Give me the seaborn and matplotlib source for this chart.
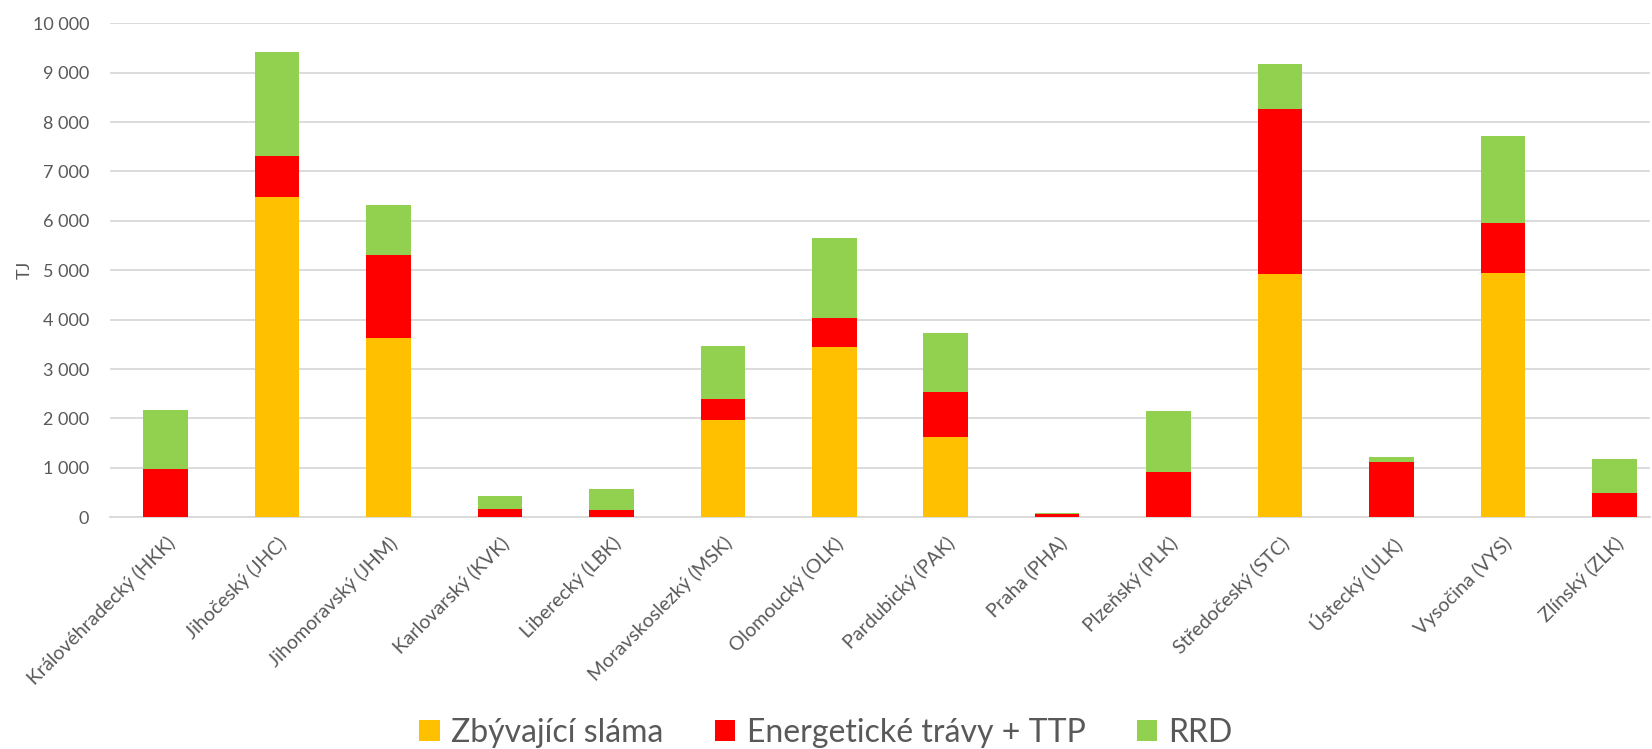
import numpy as np
import pandas as pd
import matplotlib
matplotlib.use("Agg")
import matplotlib.pyplot as plt
from matplotlib.patches import Patch
import seaborn as sns

regions = ["Královéhradecký (HKK)", "Jihočeský (JHC)", "Jihomoravský (JHM)",
           "Karlovarský (KVK)", "Liberecký (LBK)", "Moravskoslezký (MSK)",
           "Olomoucký (OLK)", "Pardubický (PAK)", "Praha (PHA)", "Plzeňský (PLK)",
           "Středočeský (STC)", "Ústecký (ULK)", "Vysočina (VYS)", "Zlínský (ZLK)"]

slama = [0, 6475, 3633, 0, 0, 1960, 3450, 1633, 0, 0, 4925, 0, 4939, 0]
travy = [975, 832, 1680, 170, 157, 430, 594, 901, 65, 915, 3347, 1127, 1017, 485]
rrd = [1203, 2119, 1011, 267, 423, 1073, 1605, 1196, 24, 1237, 895, 96, 1769, 690]

series_names = ["Zbývající sláma", "Energetické trávy + TTP", "RRD"]
colors = ["#FFC000", "#FF0000", "#92D050"]

df = pd.DataFrame({"region": regions, "slama": slama, "travy": travy, "rrd": rrd})
df["c1"] = df["slama"]
df["c2"] = df["c1"] + df["travy"]
df["c3"] = df["c2"] + df["rrd"]

sns.set_theme(style="white")
plt.rcParams["font.family"] = ["Lato", "DejaVu Sans"]

fig = plt.figure(figsize=(16.52, 7.49), dpi=100)
ax = fig.add_axes([110 / 1652, 1 - 517.3 / 749, 1540 / 1652, 494 / 749])

# stacked bars: totals first, lower layers drawn over them
for col, color in zip(["c3", "c2", "c1"], colors[::-1]):
    sns.barplot(data=df, x="region", y=col, color=color, width=0.4,
                saturation=1, ax=ax, edgecolor="none", zorder=3)

ax.set_ylim(0, 10000)
ax.set_xlim(-0.5, 13.32)
ax.set_yticks(np.arange(0, 10001, 1000))
ax.set_yticklabels([f"{v:,}".replace(",", " ") for v in range(0, 10001, 1000)])
ax.yaxis.grid(True, color="#D9D9D9", linewidth=1.3, zorder=0)
ax.set_axisbelow(True)
for s in ["top", "right", "left"]:
    ax.spines[s].set_visible(False)
ax.spines["bottom"].set_color("#D9D9D9")
ax.spines["bottom"].set_linewidth(1.3)

ax.tick_params(axis="y", length=0, pad=15, labelsize=13, labelcolor="#595959")
ax.tick_params(axis="x", length=0, pad=12, labelsize=14, labelcolor="#595959")
ax.set_xlabel("")
ax.set_ylabel("TJ", fontsize=13, color="#595959", labelpad=0)

for lbl in ax.get_xticklabels():
    lbl.set_rotation(45)
    lbl.set_rotation_mode("anchor")
    lbl.set_ha("right")
    lbl.set_va("top")

handles = [Patch(facecolor=c, edgecolor="none") for c in colors]
fig.legend(handles, series_names, loc="lower center", bbox_to_anchor=(0.5, -0.037),
           ncol=3, frameon=False, fontsize=23, labelcolor="#595959",
           handlelength=0.65, handleheight=0.65, handletextpad=0.35, columnspacing=1.6)

fig.savefig("out.png", dpi=100)
